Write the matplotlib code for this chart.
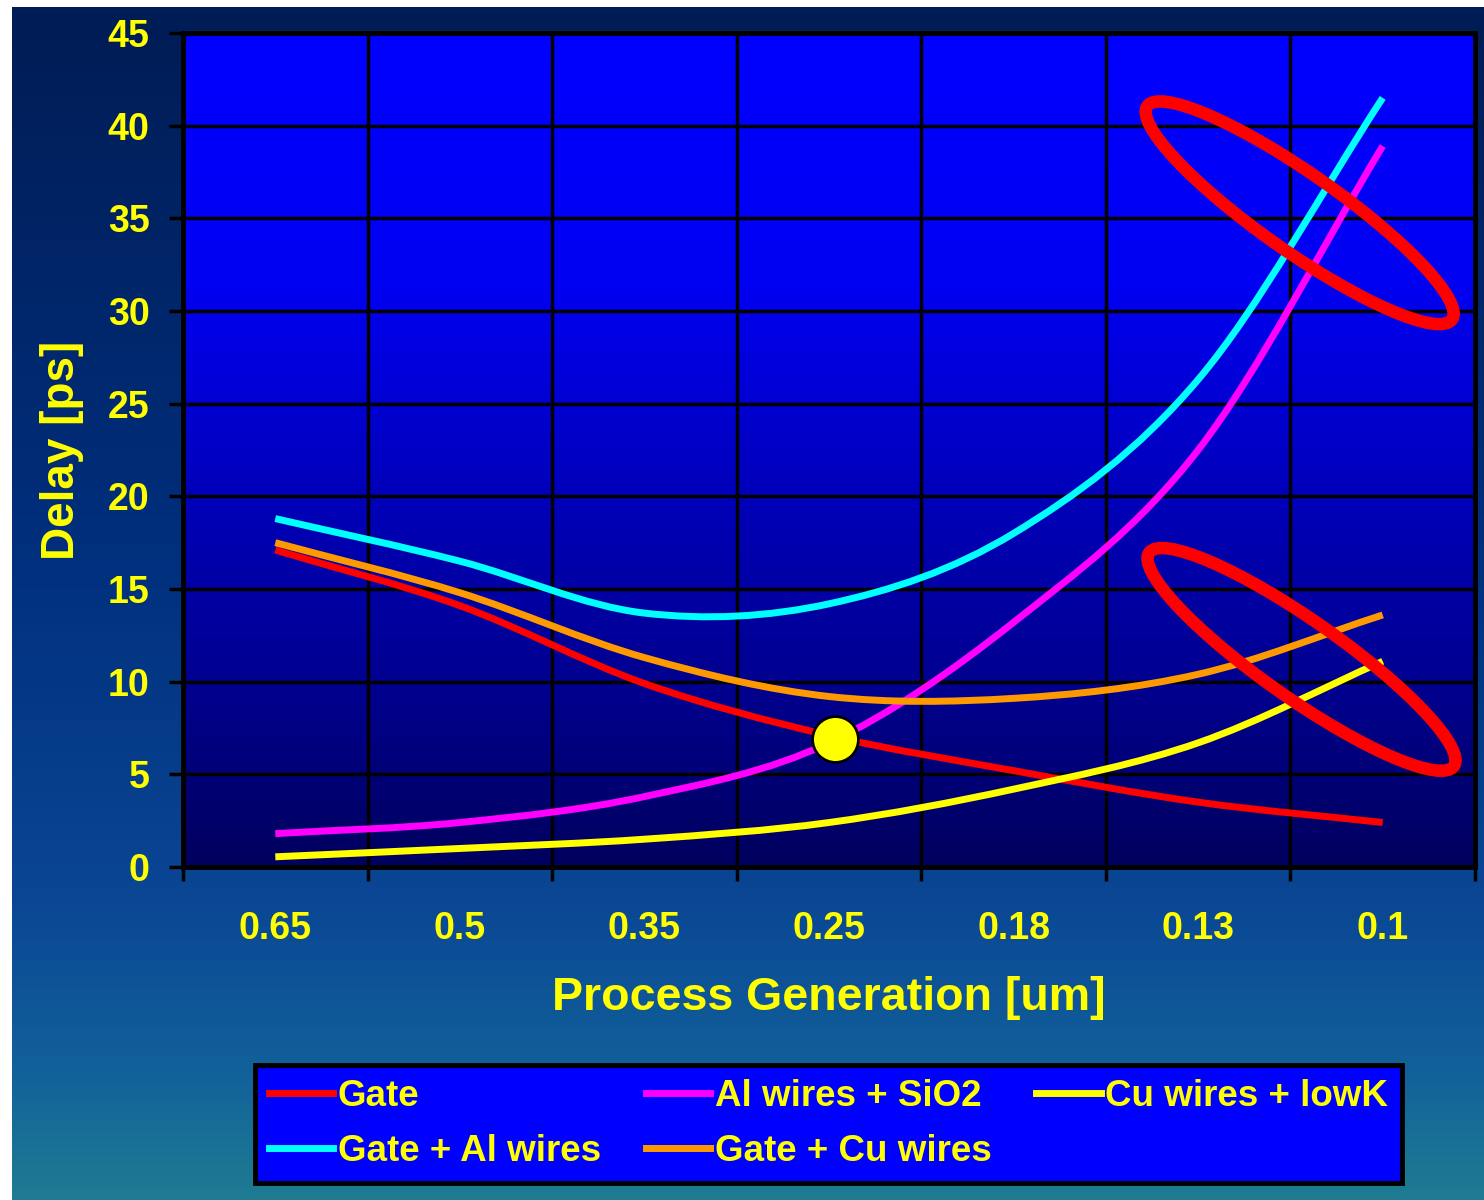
import numpy as np
import matplotlib
matplotlib.use("Agg")
import matplotlib.pyplot as plt
from matplotlib.path import Path
from matplotlib.patches import PathPatch, Ellipse
from matplotlib.lines import Line2D
from matplotlib.colors import LinearSegmentedColormap
from matplotlib.transforms import IdentityTransform

plt.rcParams['font.family'] = ['Liberation Sans', 'DejaVu Sans']

# Daten
generations = ['0.65', '0.5', '0.35', '0.25', '0.18', '0.13', '0.1']
gate = [17.1, 14.1, 9.9, 7.1, 5.2, 3.5, 2.4]
al_sio2 = [1.8, 2.4, 3.8, 6.7, 13.2, 22.5, 38.9]
cu_lowk = [0.55, 1.0, 1.5, 2.4, 4.2, 6.7, 11.1]
gate_al = [18.8, 16.5, 13.7, 14.2, 18.0, 26.3, 41.5]
gate_cu = [17.5, 14.8, 11.3, 9.2, 9.1, 10.4, 13.6]

series_names = ['Gate', 'Al wires + SiO2', 'Cu wires + lowK', 'Gate + Al wires', 'Gate + Cu wires']
series_values = [gate, al_sio2, cu_lowk, gate_al, gate_cu]
series_colors = ['#FF0000', '#FF00FF', '#FFFF00', '#00FFFF', '#FF9900']

# markierter Schnittpunkt und Ellipsen (Mittelpunkte in Datenkoordinaten)
crossing = (3.03, 6.9)
ellipse_centers = [(5.55, 35.3), (5.56, 11.2)]

W, H = 1484, 1200
yellow = '#FFFF00'


def smooth_path(vals):
    # Bezier-Kurve durch die Punkte (wie "geglättete Linie" in Excel)
    y = np.asarray(vals, float)
    x = np.arange(len(y), dtype=float)
    pts = np.column_stack([x, y])
    ext = np.vstack([2 * pts[0] - pts[1], pts, 2 * pts[-1] - pts[-2]])
    verts = [pts[0]]
    codes = [Path.MOVETO]
    for i in range(len(pts) - 1):
        p0, p1, p2, p3 = ext[i], ext[i + 1], ext[i + 2], ext[i + 3]
        verts += [p1 + (p2 - p0) / 6, p2 - (p3 - p1) / 6, p2]
        codes += [Path.CURVE4] * 3
    return Path(verts, codes)


fig = plt.figure(figsize=(W / 100, H / 100), dpi=100)
fig.patch.set_facecolor('white')

# Folienhintergrund
bg = fig.add_axes([12 / W, 0, 1 - 12 / W, 1 - 7 / H])
bg_cmap = LinearSegmentedColormap.from_list('bg', [
    (0.0, '#001c55'), (0.45, '#002f7c'), (0.75, '#0a4694'),
    (0.9, '#12629a'), (1.0, '#1e7b92')])
grad = np.linspace(0, 1, 300)[:, None] * np.ones((1, 10))
bg.imshow(grad, cmap=bg_cmap, aspect='auto', extent=[0, 1, 0, 1])
bg.axis('off')

# Diagramm
ax = fig.add_axes([183 / W, 1 - 867 / H, (1475 - 183) / W, (867 - 33) / H])
plot_cmap = LinearSegmentedColormap.from_list('plot', [
    (0.0, '#0000FF'), (0.3, '#0000F2'), (0.55, '#0000BA'),
    (0.8, '#00008C'), (1.0, '#00005E')])
ax.imshow(np.linspace(0, 1, 300)[:, None], cmap=plot_cmap, aspect='auto',
          extent=[-0.5, 6.5, 0, 45], zorder=0)
ax.set_xlim(-0.5, 6.5)
ax.set_ylim(0, 45)

for name, vals, col in zip(series_names, series_values, series_colors):
    ax.add_patch(PathPatch(smooth_path(vals), fill=False, edgecolor=col,
                           linewidth=5, capstyle='butt', zorder=3))

ax.plot([crossing[0]], [crossing[1]], 'o', markersize=33, markerfacecolor='#FFFF00',
        markeredgecolor='black', markeredgewidth=2, zorder=5)

# Achsen
ax.set_xticks(range(len(generations)))
ax.set_xticklabels(generations)
ax.set_xticks(np.arange(-0.5, 7, 1), minor=True)
ax.set_yticks(range(0, 46, 5))
ax.tick_params(axis='x', which='major', length=0, pad=32, labelsize=27,
               labelcolor=yellow)
ax.tick_params(axis='x', which='minor', length=10, width=2.5, color='black',
               direction='out')
ax.tick_params(axis='y', length=10, width=2.5, color='black', pad=14,
               labelsize=27, labelcolor=yellow)
for lab in ax.get_xticklabels() + ax.get_yticklabels():
    lab.set_fontweight('bold')

ax.grid(which='minor', axis='x', color='black', linewidth=2.5, zorder=1)
ax.grid(which='major', axis='y', color='black', linewidth=2.5, zorder=1)
ax.set_axisbelow(False)
for sp in ax.spines.values():
    sp.set_color('black')
    sp.set_linewidth(3.5)

ax.set_xlabel('Process Generation [um]', fontsize=33.5, fontweight='bold', color=yellow)
ax.xaxis.set_label_coords(0.5, (867 - 998) / 834)
ax.xaxis.label.set_va('center')
ax.set_ylabel('Delay [ps]', fontsize=33, fontweight='bold', color=yellow)
ax.yaxis.set_label_coords((62 - 183) / 1292, 0.5)
ax.yaxis.label.set_va('center')

# Legende (Reihenfolge spaltenweise)
order = [0, 3, 1, 4, 2]
handles = [Line2D([], [], color=series_colors[i], linewidth=5) for i in order]
labels = [series_names[i] for i in order]
leg = fig.legend(handles, labels, ncol=3, loc='center',
                 bbox_to_anchor=(255 / W, 1 - 1185 / H, 1147 / W, 122 / H),
                 mode='expand', prop={'size': 26.5, 'weight': 'bold'},
                 labelcolor=yellow, facecolor='#0000FF', edgecolor='black',
                 framealpha=1, fancybox=False, handlelength=1.75,
                 handletextpad=0.12, borderaxespad=0, labelspacing=0.55,
                 borderpad=0.38)
leg.get_frame().set_linewidth(3.5)

# rote Ellipsen
fig.canvas.draw()
for c in ellipse_centers:
    cx, cy = ax.transData.transform(c)
    fig.add_artist(Ellipse((cx, cy), width=372, height=78, angle=-35,
                           transform=IdentityTransform(), fill=False,
                           edgecolor='#FF0000', linewidth=9, zorder=10))

fig.savefig('out.png', dpi=100)
